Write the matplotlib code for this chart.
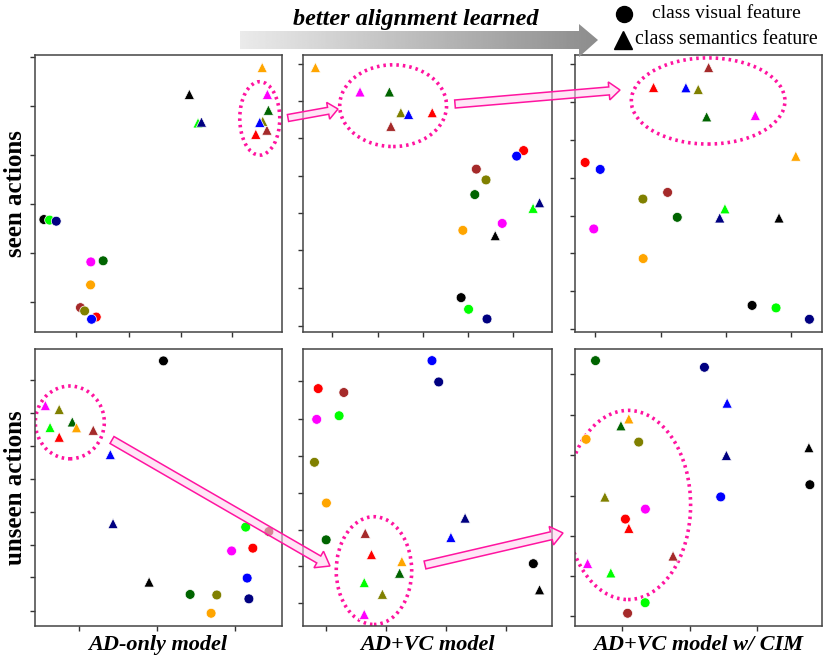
import matplotlib
matplotlib.use("Agg")
import matplotlib.pyplot as plt
import numpy as np
from matplotlib.patches import Ellipse, FancyArrow, Polygon

plt.rcParams['font.family'] = ['Liberation Serif', 'DejaVu Serif']

# class colours, same order in every array below
colors = ['black', '#00ff00', '#000080', '#ff00ff', '#006400',
          '#ffa500', '#a52a2a', '#808000', '#ff0000', '#0000ff']

# values (0-100 in each panel)
seen_ad_vis_x = [3.8, 6.1, 8.8, 22.8, 27.8, 22.7, 18.6, 20.3, 25.0, 23.1]
seen_ad_vis_y = [40.6, 40.4, 40.0, 25.3, 25.7, 17.0, 8.8, 7.6, 5.4, 4.6]
seen_ad_sem_x = [62.7, 66.2, 67.6, 94.3, 94.7, 92.2, 94.1, 92.4, 89.6, 91.2]
seen_ad_sem_y = [85.8, 75.5, 75.8, 85.8, 80.1, 95.5, 72.9, 76.1, 71.4, 75.7]

seen_vc_vis_x = [63.5, 66.5, 73.9, 80.0, 69.0, 64.2, 69.6, 73.5, 88.6, 85.8]
seen_vc_vis_y = [12.4, 8.2, 4.7, 39.2, 49.6, 36.7, 58.8, 54.9, 65.5, 63.5]
seen_vc_sem_x = [77.2, 92.4, 95.0, 22.9, 34.7, 5.0, 35.3, 39.3, 51.9, 42.4]
seen_vc_sem_y = [34.8, 44.7, 46.7, 86.7, 86.7, 95.5, 74.3, 79.2, 79.2, 78.6]

seen_cim_vis_x = [71.9, 81.6, 95.1, 7.8, 41.6, 27.8, 37.7, 27.7, 4.3, 10.4]
seen_cim_vis_y = [9.6, 8.7, 4.6, 37.2, 41.4, 26.5, 50.4, 48.0, 61.2, 58.7]
seen_cim_sem_x = [82.8, 60.9, 58.8, 73.2, 53.5, 89.6, 54.3, 50.1, 32.0, 45.1]
seen_cim_sem_y = [41.2, 44.5, 41.2, 78.2, 77.7, 63.5, 95.5, 87.6, 88.3, 88.2]

unseen_ad_vis_x = [52.2, 85.5, 86.8, 79.8, 63.0, 71.5, 94.9, 73.8, 88.4, 86.1]
unseen_ad_vis_y = [95.7, 35.7, 9.8, 27.1, 11.4, 4.6, 34.1, 11.2, 28.1, 17.3]
unseen_ad_sem_x = [46.4, 6.3, 31.8, 4.4, 15.3, 17.0, 23.8, 10.0, 10.0, 30.7]
unseen_ad_sem_y = [15.9, 71.7, 37.0, 79.6, 73.7, 71.6, 70.7, 78.2, 68.2, 61.9]

unseen_vc_vis_x = [92.5, 14.5, 54.5, 5.5, 9.3, 9.4, 16.4, 4.6, 6.1, 51.8]
unseen_vc_vis_y = [22.5, 75.9, 88.1, 74.6, 31.1, 44.4, 84.3, 59.1, 85.7, 95.8]
unseen_vc_sem_x = [95.0, 24.6, 65.1, 24.6, 38.8, 39.7, 25.0, 31.9, 27.5, 59.4]
unseen_vc_sem_y = [13.1, 15.7, 39.0, 4.2, 19.1, 23.3, 33.5, 11.5, 25.8, 32.0]

unseen_cim_vis_x = [95.3, 28.6, 52.6, 28.7, 8.5, 4.7, 21.5, 26.0, 20.6, 59.2]
unseen_cim_vis_y = [51.0, 8.4, 93.4, 42.2, 95.8, 67.4, 4.6, 66.4, 38.6, 46.6]
unseen_cim_sem_x = [94.9, 14.7, 61.5, 5.3, 18.8, 22.0, 39.9, 12.3, 22.0, 61.8]
unseen_cim_sem_y = [64.4, 19.2, 61.6, 22.6, 72.3, 74.8, 25.3, 46.6, 35.3, 80.5]

# tick positions of each panel
xticks = [[16.9, 38.1, 59.2, 80.1], [11.8, 30.0, 48.1, 66.2, 84.3], [8.4, 34.9, 61.5, 87.8],
          [18.2, 49.5, 81.2], [9.2, 33.2, 57.5, 81.4], [19.3, 46.6, 74.0]]
yticks = [[99.2, 81.6, 63.9, 46.3, 28.7, 11.0],
          [96.7, 83.4, 69.9, 56.4, 42.8, 29.5, 15.9, 2.3],
          [96.7, 83.1, 69.3, 55.7, 42.0, 28.4, 14.7, 1.2],
          [88.7, 76.9, 65.1, 53.1, 41.2, 29.4, 17.6, 5.5],
          [88.3, 74.7, 61.4, 48.1, 34.8, 21.5, 8.2],
          [90.8, 76.1, 61.6, 47.0, 32.4, 17.9, 3.5]]

# highlighted clusters (cx, cy, w, h)
ellipses = [(91.2, 77.1, 16.2, 26.5), (36.2, 81.7, 42.9, 29.5), (54.1, 83.4, 62.2, 31.1),
            (14.3, 73.5, 27.9, 26.3), (28.5, 20.0, 30.3, 38.9), (21.7, 43.7, 50.6, 68.3)]

col_labels = ['AD-only model', 'AD+VC model', 'AD+VC model w/ CIM']
row_labels = ['seen actions', 'unseen actions']

panels = [
    (seen_ad_vis_x, seen_ad_vis_y, seen_ad_sem_x, seen_ad_sem_y),
    (seen_vc_vis_x, seen_vc_vis_y, seen_vc_sem_x, seen_vc_sem_y),
    (seen_cim_vis_x, seen_cim_vis_y, seen_cim_sem_x, seen_cim_sem_y),
    (unseen_ad_vis_x, unseen_ad_vis_y, unseen_ad_sem_x, unseen_ad_sem_y),
    (unseen_vc_vis_x, unseen_vc_vis_y, unseen_vc_sem_x, unseen_vc_sem_y),
    (unseen_cim_vis_x, unseen_cim_vis_y, unseen_cim_sem_x, unseen_cim_sem_y),
]

W, H = 830, 661
fig = plt.figure(figsize=(W / 100, H / 100), dpi=100)

col_x = [(34.5, 247), (303, 249), (574.5, 247)]
row_y = [(55, 277), (349, 277)]
pink = '#ff14a0'

for i, (vx, vy, sx, sy) in enumerate(panels):
    r, c = divmod(i, 3)
    x0, w = col_x[c]
    y0, h = row_y[r]
    ax = fig.add_axes([x0 / W, 1 - (y0 + h) / H, w / W, h / H])
    ax.scatter(vx, vy, c=colors, marker='o', s=50, edgecolors='white', linewidths=0.5, zorder=3)
    ax.scatter(sx, sy, c=colors, marker='^', s=54, edgecolors='white', linewidths=0.5, zorder=3)
    ex, ey, ew, eh = ellipses[i]
    ax.add_patch(Ellipse((ex, ey), ew, eh, fill=False, edgecolor=pink, lw=2.6,
                         linestyle=(0, (0.7, 1.1)), zorder=2))
    ax.set_xlim(0, 100)
    ax.set_ylim(0, 100)
    ax.set_xticks(xticks[i])
    ax.set_yticks(yticks[i])
    ax.tick_params(length=3.5, width=1, color='#333333', labelleft=False, labelbottom=False)
    for sp in ax.spines.values():
        sp.set_color('#444444')
        sp.set_linewidth(1.1)

for c, lab in enumerate(col_labels):
    x0, w = col_x[c]
    fig.text((x0 + w / 2) / W, 1 - 645 / H, lab, ha='center', va='center',
             fontsize=16, fontweight='bold', fontstyle='italic')
for r, lab in enumerate(row_labels):
    y0, h = row_y[r]
    fig.text(16 / W, 1 - (y0 + h / 2) / H, lab, ha='center', va='center', rotation=90,
             fontsize=18, fontweight='bold')

# overlay in pixel coordinates for arrows and legend
ov = fig.add_axes([0, 0, 1, 1], zorder=10)
ov.patch.set_alpha(0)
ov.axis('off')

# gray gradient arrow
arrow_pts = [(240, 31), (579, 31), (579, 24), (598, 40), (579, 57), (579, 49), (240, 49)]
poly = Polygon(arrow_pts, closed=True, facecolor='none', edgecolor='none')
ov.add_patch(poly)
grad = np.linspace(0.92, 0.55, 256).reshape(1, -1)
im = ov.imshow(grad, cmap='gray', vmin=0, vmax=1, extent=[240, 598, 57, 24], aspect='auto')
im.set_clip_path(poly)
ov.set_xlim(0, W)
ov.set_ylim(H, 0)
ov.text(416, 19, 'better alignment learned', ha='center', va='center',
        fontsize=17.5, fontweight='bold', fontstyle='italic')

# legend
ov.plot([624], [14], 'o', color='black', markersize=11.5)
ov.text(652, 14, 'class visual feature', ha='left', va='center', fontsize=14)
ov.plot([623], [40], '^', color='black', markersize=12.5)
ov.text(635, 40, 'class semantics feature', ha='left', va='center', fontsize=14.3)

# pink hollow arrows between panels
links = [((288, 118), (338, 109), 7, 17, 10),
         ((455, 104), (620, 90), 8, 18, 11),
         ((112, 440), (330, 566), 8, 19, 13),
         ((425, 565), (563, 533), 8, 19, 12)]
for (xa, ya), (xb, yb), sw, hw, hl in links:
    ov.add_patch(FancyArrow(xa, ya, xb - xa, yb - ya, width=sw, head_width=hw, head_length=hl,
                            length_includes_head=True, facecolor=(1.0, 0.82, 0.94, 0.55),
                            edgecolor=pink, lw=1.1))

fig.savefig('out.png', dpi=100)
